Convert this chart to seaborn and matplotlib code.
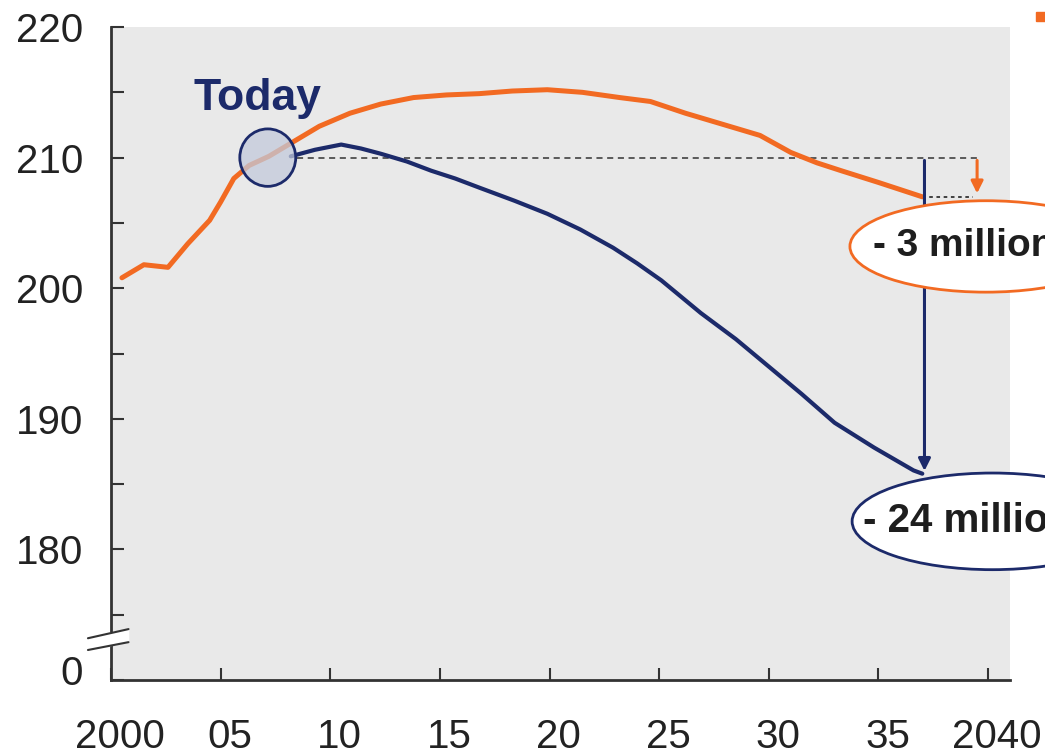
import matplotlib.pyplot as plt
import matplotlib.transforms as mtransforms
import pandas as pd
import seaborn as sns
from matplotlib.patches import Ellipse, Rectangle

# values (population, millions)
orange_years = [2000.5, 2001.5, 2002.6, 2003.5, 2004.5, 2005.0, 2005.6, 2006.3, 2007.2,
                2008.3, 2009.5, 2010.9, 2012.3, 2013.8, 2015.3, 2016.8, 2018.3, 2019.9,
                2021.5, 2023.2, 2024.6, 2026.2, 2027.8, 2029.6, 2031.0, 2032.2, 2033.3,
                2035.0, 2037.0]
orange_vals = [200.8, 201.8, 201.6, 203.4, 205.2, 206.6, 208.4, 209.4, 210.1,
               211.2, 212.4, 213.4, 214.1, 214.6, 214.8, 214.9, 215.1, 215.2,
               215.0, 214.6, 214.3, 213.4, 212.6, 211.7, 210.4, 209.6, 209.0,
               208.1, 207.0]
navy_years = [2008.2, 2009.3, 2010.5, 2011.4, 2012.3, 2013.5, 2014.6, 2015.7, 2016.8,
              2018.4, 2019.9, 2021.4, 2022.9, 2024.0, 2025.1, 2026.9, 2028.5, 2030.0,
              2031.5, 2033.0, 2034.8, 2036.6, 2037.0]
navy_vals = [210.1, 210.6, 211.0, 210.7, 210.3, 209.7, 209.0, 208.4, 207.7,
             206.7, 205.7, 204.5, 203.1, 201.9, 200.6, 198.1, 196.1, 194.0,
             191.9, 189.7, 187.8, 186.05, 185.8]

today = (2007.15, 210.0)
base_level = 210.0
x_ticks = [2000, 2005, 2010, 2015, 2020, 2025, 2030, 2035, 2040]
x_labels = ["2000", "05", "10", "15", "20", "25", "30", "35", "2040"]
y_ticks = [170, 180, 190, 200, 210, 220]
y_labels = ["0", "180", "190", "200", "210", "220"]
y_minor = [175, 185, 195, 205, 215]

ORANGE = "#F26A22"
NAVY = "#1C2A6A"

sns.set_theme(style="white")
plt.rcParams["font.family"] = ["Liberation Sans", "DejaVu Sans"]

fig = plt.figure(figsize=(10.45, 7.55), dpi=100)
ax = fig.add_axes([0.1062, 0.0993, 0.8603, 0.8649])
ax.set_facecolor("#e9e9e9")

orange = pd.DataFrame({"year": orange_years, "pop": orange_vals})
navy = pd.DataFrame({"year": navy_years, "pop": navy_vals})
sns.lineplot(data=orange, x="year", y="pop", color=ORANGE, lw=3.6, sort=False,
             estimator=None, ax=ax, zorder=3)
sns.lineplot(data=navy, x="year", y="pop", color=NAVY, lw=3.0, sort=False,
             estimator=None, ax=ax, zorder=3)

ax.set_xlim(2000, 2041)
ax.set_ylim(170, 220)
ax.set_xlabel("")
ax.set_ylabel("")

# dashed reference at today's level
ax.plot([2008.5, 2039.7], [base_level, base_level], ls=(0, (4, 3)), color="#333333", lw=1.1, zorder=2)
ax.plot([orange_years[-1], 2039.3], [orange_vals[-1], orange_vals[-1]], ls=(0, (2, 2)),
        color="#333333", lw=1.3, zorder=2)

# "Today" marker
ax.add_patch(Ellipse(today, width=2.55, height=4.4, facecolor="#c3cadb", alpha=0.75,
                     edgecolor="none", zorder=4))
ax.add_patch(Ellipse(today, width=2.55, height=4.4, facecolor="none",
                     edgecolor=NAVY, lw=2.0, zorder=5))
ax.text(2003.75, 214.5, "Today", color=NAVY, fontsize=32, fontweight="bold",
        ha="left", va="center")

# arrows showing the declines
ax.annotate("", xy=(2037.1, navy_vals[-1]), xytext=(2037.1, base_level),
            arrowprops=dict(arrowstyle="-|>,head_length=0.6,head_width=0.3", color=NAVY, lw=2.2),
            zorder=4)
ax.annotate("", xy=(2039.5, orange_vals[-1] + 0.05), xytext=(2039.5, base_level),
            arrowprops=dict(arrowstyle="-|>,head_length=0.6,head_width=0.3", color=ORANGE, lw=2.2),
            zorder=4)

# labels in ellipses, cut off by the figure edge as in the original slide
ax.add_patch(Ellipse((2039.9, 203.2), width=12.4, height=7.0, facecolor="white",
                     edgecolor=ORANGE, lw=2.0, clip_on=False, zorder=6))
ax.text(2034.75, 203.2, "- 3 million", fontsize=28, fontweight="bold", color="#1e1e1e",
        ha="left", va="center", clip_on=False, zorder=7)
ax.add_patch(Ellipse((2040.2, 182.15), width=12.8, height=7.4, facecolor="white",
                     edgecolor=NAVY, lw=2.0, clip_on=False, zorder=6))
ax.text(2034.3, 182.15, "- 24 million", fontsize=29, fontweight="bold", color="#1e1e1e",
        ha="left", va="center", clip_on=False, zorder=7)

# axes styling
for side in ["top", "right"]:
    ax.spines[side].set_visible(False)
for side in ["left", "bottom"]:
    ax.spines[side].set_color("#333333")
    ax.spines[side].set_linewidth(2.0)

ax.set_xticks(x_ticks)
ax.set_xticklabels(x_labels)
ax.set_yticks(y_ticks)
ax.set_yticklabels(y_labels)
ax.set_yticks(y_minor, minor=True)
ax.tick_params(axis="both", which="both", direction="in", length=9, width=1.5,
               color="#333333", labelsize=29, labelcolor="#222222",
               bottom=True, left=True)
ax.tick_params(axis="x", pad=27)
ax.tick_params(axis="y", pad=20)

# the slide's year labels sit a little right of their ticks, the "0" a little high
shift_x = mtransforms.ScaledTranslation(9 / 100, 0, fig.dpi_scale_trans)
for lab in ax.get_xticklabels():
    lab.set_transform(lab.get_transform() + shift_x)
shift_y = mtransforms.ScaledTranslation(0, 10 / 100, fig.dpi_scale_trans)
zero_lab = ax.get_yticklabels()[0]
zero_lab.set_transform(zero_lab.get_transform() + shift_y)

# axis break marks
ax.fill([1998.95, 2000.8, 2000.8, 1998.95], [173.2, 173.9, 172.9, 172.3], color="white",
        clip_on=False, zorder=5)
ax.plot([1998.95, 2000.8], [173.2, 173.9], color="#333333", lw=1.5, clip_on=False, zorder=6)
ax.plot([1998.95, 2000.8], [172.3, 172.9], color="#333333", lw=1.5, clip_on=False, zorder=6)

# fragment of a legend marker at the top right
fig.patches.append(Rectangle((1036 / 1045, 1 - 21 / 755), 9 / 1045, 9 / 755,
                             transform=fig.transFigure, color=ORANGE))

fig.savefig("out.png", dpi=100)
